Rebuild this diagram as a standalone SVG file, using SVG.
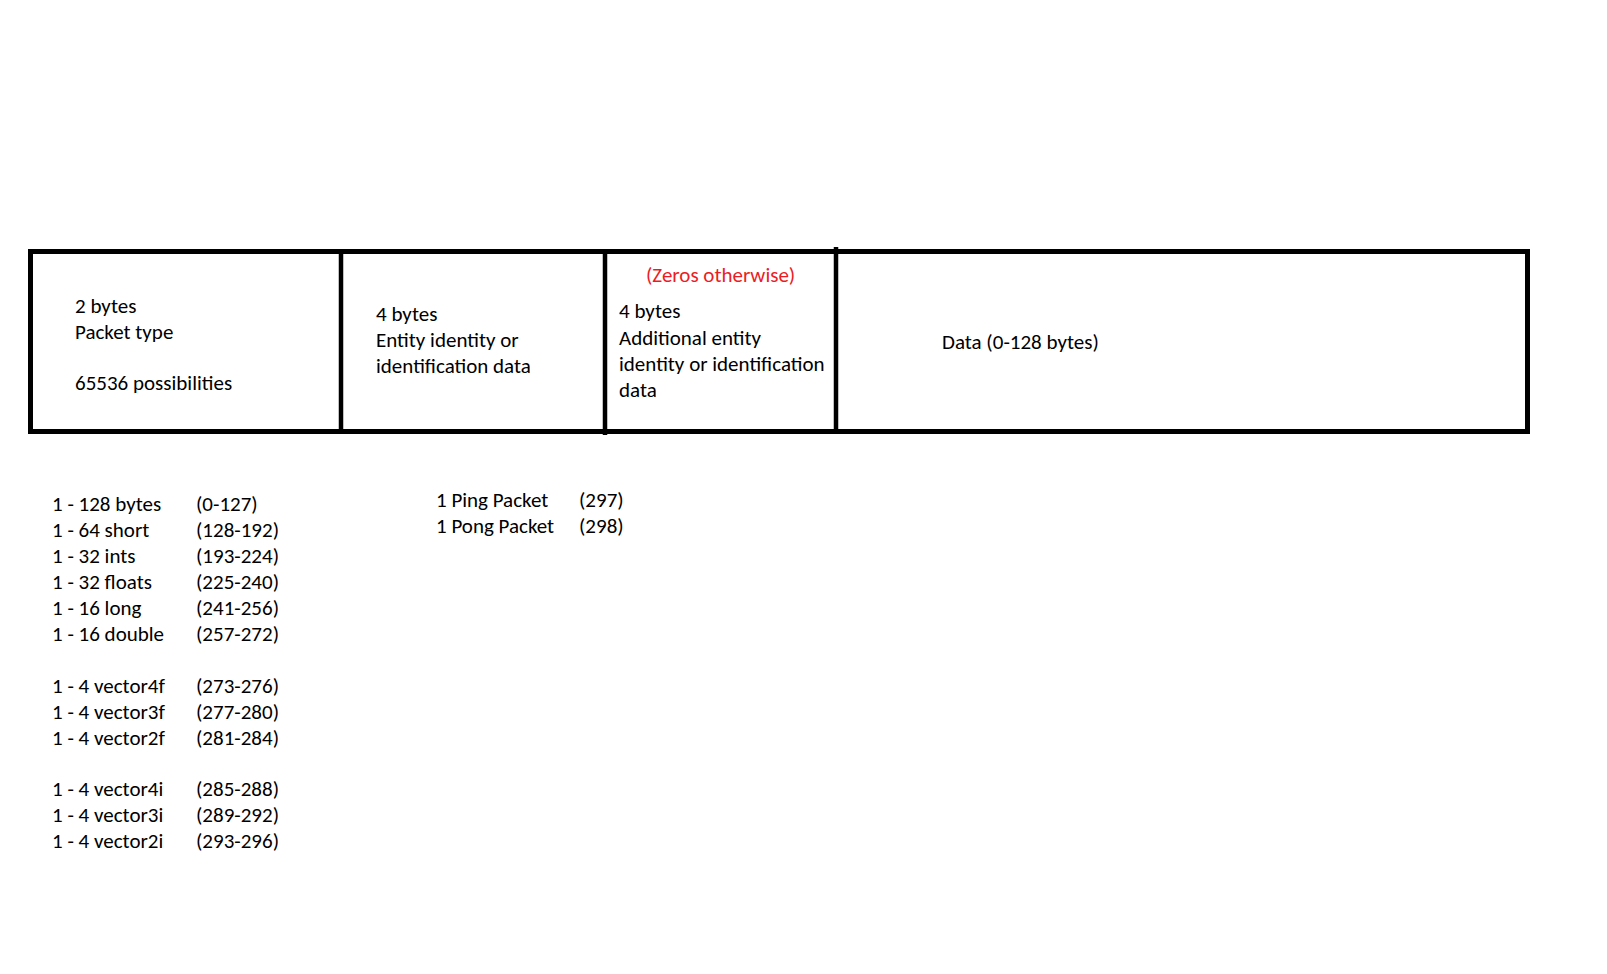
<svg xmlns="http://www.w3.org/2000/svg" width="1607" height="974" viewBox="0 0 1607 974">
<style>
text{font-family:Carlito,"Liberation Sans",sans-serif;font-size:21px;fill:#000}
.red{fill:#ed1c24}
.frame{fill:none;stroke:#000;stroke-width:5}
.div{stroke:#000;stroke-width:4.5}
</style>
<rect width="1607" height="974" fill="#fff"/>
<g id="packet">
<rect class="frame" x="30.5" y="251.5" width="1497" height="180"/>
</g>
<g id="connectors">
<line class="div" x1="341" y1="251" x2="341" y2="432"/>
<line class="div" x1="605" y1="251" x2="605" y2="435"/>
<line class="div" x1="836" y1="247" x2="836" y2="432"/>
</g>
<g id="field-type" transform="translate(0,1.5)">
<text x="75" y="311.6">2 bytes</text>
<text x="75" y="337.2">Packet type</text>
<text x="75" y="388.8">65536 possibilities</text>
</g>
<g id="field-entity" transform="translate(0,1.5)">
<text x="376" y="319.8">4 bytes</text>
<text x="376" y="345.4">Entity identity or</text>
<text x="376" y="371.5">identification data</text>
</g>
<g id="field-additional" transform="translate(0,1.5)">
<text class="red" x="646" y="280.9">(Zeros otherwise)</text>
<text x="619" y="316.7">4 bytes</text>
<text x="619" y="343">Additional entity</text>
<text x="619" y="369">identity or identification</text>
<text x="619" y="395">data</text>
</g>
<g id="field-data" transform="translate(0,1)">
<text x="942" y="347.5">Data (0-128 bytes)</text>
</g>
<g id="type-list" transform="translate(0,1.5)">
<text x="52" y="509.4">1 - 128 bytes</text><text x="196" y="509.4">(0-127)</text>
<text x="52" y="535.4">1 - 64 short</text><text x="196" y="535.4">(128-192)</text>
<text x="52" y="561.3">1 - 32 ints</text><text x="196" y="561.3">(193-224)</text>
<text x="52" y="587.3">1 - 32 floats</text><text x="196" y="587.3">(225-240)</text>
<text x="52" y="613.2">1 - 16 long</text><text x="196" y="613.2">(241-256)</text>
<text x="52" y="639.2">1 - 16 double</text><text x="196" y="639.2">(257-272)</text>
<text x="52" y="691.1">1 - 4 vector4f</text><text x="196" y="691.1">(273-276)</text>
<text x="52" y="717">1 - 4 vector3f</text><text x="196" y="717">(277-280)</text>
<text x="52" y="743">1 - 4 vector2f</text><text x="196" y="743">(281-284)</text>
<text x="52" y="794.9">1 - 4 vector4i</text><text x="196" y="794.9">(285-288)</text>
<text x="52" y="820.8">1 - 4 vector3i</text><text x="196" y="820.8">(289-292)</text>
<text x="52" y="846.8">1 - 4 vector2i</text><text x="196" y="846.8">(293-296)</text>
</g>
<g id="special-list" transform="translate(0,1.5)">
<text x="436" y="505.3">1 Ping Packet</text><text x="579" y="505.3">(297)</text>
<text x="436" y="531">1 Pong Packet</text><text x="579" y="531">(298)</text>
</g>
</svg>
